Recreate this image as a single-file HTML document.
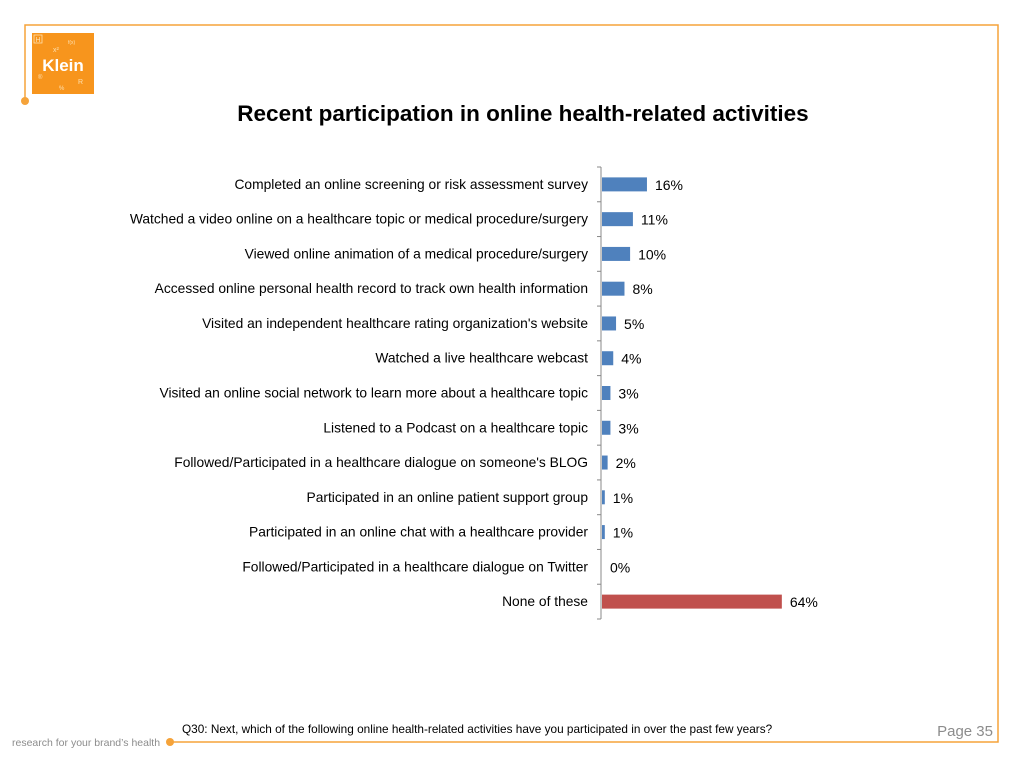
<!DOCTYPE html>
<html><head><meta charset="utf-8">
<style>
body{margin:0;width:1024px;height:768px;background:#fff;overflow:hidden;font-family:"Liberation Sans",sans-serif;}
svg{display:block}
</style></head>
<body>
<svg width="1024" height="768" viewBox="0 0 1024 768">
  <g stroke="#f5a33a" stroke-width="1.5" fill="none">
    <polyline points="25,101 25,25 998,25 998,742 170,742"/>
  </g>
  <circle cx="25" cy="101" r="4" fill="#f5a33a"/>
  <circle cx="170" cy="742" r="4" fill="#f5a33a"/>
  <g>
    <rect x="32" y="33" width="62" height="61" fill="#f7951d"/>
    <rect x="34" y="35" width="8" height="8" fill="none" stroke="#fde0b0" stroke-width="0.8"/>
    <text x="38" y="42" font-size="7" fill="#fde0b0" text-anchor="middle">H</text>
    <text x="53" y="52" font-size="7" fill="#fde0b0">x²</text>
    <text x="68" y="44" font-size="5" fill="#fde0b0">f(x)</text>
    <text x="63" y="71" font-size="17" font-weight="bold" fill="#fff" text-anchor="middle">Klein</text>
    <text x="38" y="79" font-size="6" fill="#fde0b0">®</text>
    <text x="78" y="84" font-size="7" fill="#fde0b0">R</text>
    <text x="59" y="90" font-size="6" fill="#fde0b0">%</text>
  </g>
  <text x="523" y="121" font-size="22.5" font-weight="bold" text-anchor="middle" fill="#000">Recent participation in online health-related activities</text>
  <g id="chart"></g>
  <text x="182" y="733" font-size="11.8" fill="#000">Q30: Next, which of the following online health-related activities have you participated in over the past few years?</text>
  <text x="993" y="736" font-size="15" fill="#8c8c8c" text-anchor="end">Page 35</text>
  <text x="12" y="746" font-size="10.5" fill="#8c8c8c">research for your brand’s health</text>
</svg>
<script>
const categories=["Completed an online screening or risk assessment survey","Watched a video online on a healthcare topic or medical procedure/surgery","Viewed online animation of a medical procedure/surgery","Accessed online personal health record to track own health information","Visited an independent healthcare rating organization's website","Watched a live healthcare webcast","Visited an online social network to learn more about a healthcare topic","Listened to a Podcast on a healthcare topic","Followed/Participated in a healthcare dialogue on someone's BLOG","Participated in an online patient support group","Participated in an online chat with a healthcare provider","Followed/Participated in a healthcare dialogue on Twitter","None of these"];
const values=[16,11,10,8,5,4,3,3,2,1,1,0,64];
const valueLabels=["16%","11%","10%","8%","5%","4%","3%","3%","2%","1%","1%","0%","64%"];
const NS="http://www.w3.org/2000/svg";
const g=document.getElementById('chart');
const x0=602, pxPer=2.81, yTop=167, yBottom=619;
const band=(yBottom-yTop)/categories.length;
const xS=v=>x0+v*pxPer;
const yS=i=>yTop+band*(i+0.5);
function mk(t,a){const e=document.createElementNS(NS,t);for(const k in a)e.setAttribute(k,a[k]);g.appendChild(e);return e;}
const ax=mk('line',{x1:601,y1:yTop,x2:601,y2:yBottom,stroke:'#888','stroke-width':1});


for(let i=0;i<=categories.length;i++){
  const t=mk('line',{x1:597,x2:601,y1:yTop+band*i,y2:yTop+band*i,stroke:'#888','stroke-width':1});
  
  
}
categories.forEach((c,i)=>{
  const y=yS(i);
  const l=mk('text',{x:588,y:y+4.5,'font-size':13.8,'text-anchor':'end',fill:'#000'});
  l.textContent=c;
  
  
  const w=xS(values[i])-x0;
  const b=mk('rect',{x:x0,y:y-7,width:Math.max(w,0),height:14,fill:i===categories.length-1?'#c0504d':'#4f81bd'});
  
  
  const v=mk('text',{x:xS(values[i])+8,y:y+5.5,'font-size':14,fill:'#000'});
  v.textContent=valueLabels[i];
  
  
});
</script>
</body></html>
